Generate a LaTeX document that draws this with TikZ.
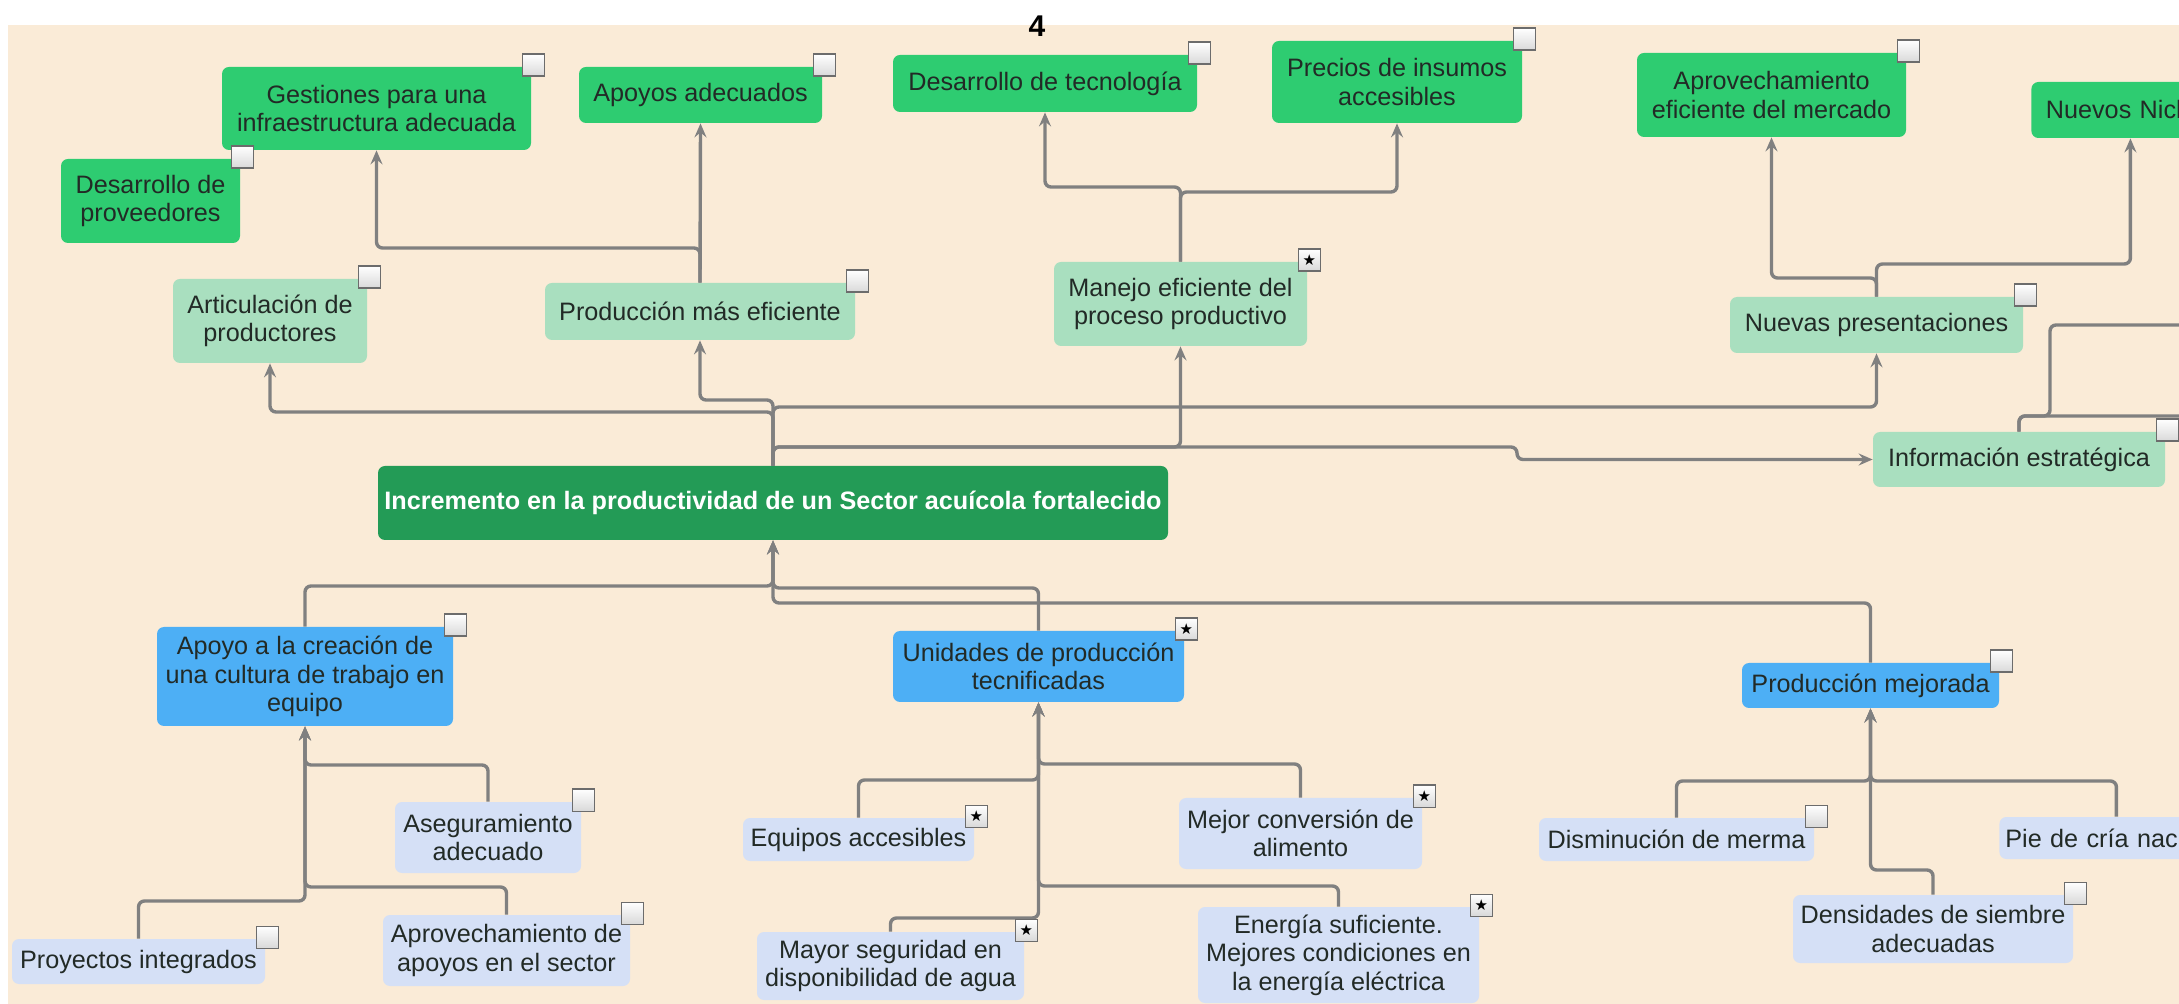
\documentclass[tikz,border=0pt]{standalone}
\usepackage{fontspec}
\setmainfont{Liberation Sans}
\newfontfamily\symfont{DejaVu Sans}
\usetikzlibrary{arrows.meta}
\definecolor{bgbeige}{HTML}{FAEBD7}
\definecolor{gtop}{HTML}{2ECC71}
\definecolor{gmid}{HTML}{A9DFBF}
\definecolor{gmain}{HTML}{239B56}
\definecolor{bblue}{HTML}{4DAFF5}
\definecolor{lavb}{HTML}{D5E0F6}
\definecolor{lgray}{HTML}{808080}
\definecolor{txt}{HTML}{222A26}
\tikzset{
  box/.style={rounded corners=3.5pt, inner xsep=2pt, inner ysep=0pt, align=center,
    font=\fontsize{12.6}{14.3}\selectfont, text=txt},
  topg/.style={box, fill=gtop},
  midg/.style={box, fill=gmid},
  mainbox/.style={box, fill=gmain, text=white, inner xsep=0pt,
    font=\bfseries\fontsize{12.6}{14.3}\selectfont},
  blu/.style={box, fill=bblue},
  lav/.style={box, fill=lavb},
  conn/.style={draw=lgray, line width=1.7pt, rounded corners=3pt},
  arr/.style={conn, -{Stealth[length=7pt,width=6pt,inset=2.5pt]}},
  chkbox/.style={draw=gray!85!black, line width=0.6pt, top color=white, bottom color=gray!30,
    minimum size=11pt, inner sep=0pt, font=\symfont\fontsize{7.5}{7.5}\selectfont},
}
\newcommand\chkat[2]{\node[chkbox] (#1-chk) at ([xshift=1pt,yshift=0.75pt]#1.north east) {#2};}
\begin{document}
\begin{tikzpicture}[x=0.5pt,y=-0.5pt]
\useasboundingbox (0,0) rectangle (2179,1004);
\clip (0,0) rectangle (2179,1004);
\fill[white] (0,0) rectangle (2179,1004);
\fill[bgbeige] (8,25) rectangle (2179,1004);
\node[font=\bfseries\fontsize{15}{15}\selectfont] (pagenum) at (1037,26) {4};

% top level
\node[topg, minimum width=154.5pt, minimum height=41.5pt] (gest) at (376.5,108.5) {Gestiones para una\\infraestructura adecuada};
\node[topg, minimum width=89.5pt, minimum height=42pt] (prov) at (150.5,201) {Desarrollo de\\proveedores};
\node[topg, minimum width=121.5pt, minimum height=28pt] (apoyos) at (700.5,95) {Apoyos adecuados};
\node[topg, minimum width=152pt, minimum height=28.5pt] (tecno) at (1045,83.5) {Desarrollo de tecnología};
\node[topg, minimum width=125pt, minimum height=41pt] (precios) at (1397,82) {Precios de insumos\\accesibles};
\node[topg, minimum width=134.5pt, minimum height=42pt] (aprov) at (1771.5,95) {Aprovechamiento\\eficiente del mercado};
\node[topg, minimum height=28pt, text width=84.5pt, inner xsep=7.25pt, align=left, anchor=west] (nichos) at (2031,110) {Nuevos Nich};

% second level
\node[midg, minimum width=97pt, minimum height=42pt] (artic) at (270,321) {Articulación de\\productores};
\node[midg, minimum width=155pt, minimum height=28.5pt] (prodef) at (700,311.5) {Producción más eficiente};
\node[midg, minimum width=126.5pt, minimum height=42pt] (manejo) at (1180.5,304) {Manejo eficiente del\\proceso productivo};
\node[midg, minimum width=146.5pt, minimum height=28pt] (nuevas) at (1876.5,325) {Nuevas presentaciones};
\node[midg, minimum width=146pt, minimum height=27.5pt] (info) at (2019,459.5) {Información estratégica};

% main
\node[mainbox, minimum width=395pt, minimum height=37pt] (main) at (773,503) {Incremento en la productividad de un Sector acuícola fortalecido};

% blue
\node[blu, minimum width=148pt, minimum height=49.5pt] (apoyo) at (305,676.5) {Apoyo a la creación de\\una cultura de trabajo en\\equipo};
\node[blu, minimum width=145.5pt, minimum height=35.5pt] (unid) at (1038.5,666.5) {Unidades de producción\\tecnificadas};
\node[blu, minimum width=128.5pt, minimum height=22.5pt] (prodmej) at (1870.5,685.5) {Producción mejorada};

% lavender
\node[lav, minimum width=93pt, minimum height=35.5pt] (asegur) at (488,837.5) {Aseguramiento\\adecuado};
\node[lav, minimum width=123.5pt, minimum height=35.5pt] (aprovap) at (506.5,950.5) {Aprovechamiento de\\apoyos en el sector};
\node[lav, minimum width=126.5pt, minimum height=22.5pt] (proyectos) at (138.5,961.5) {Proyectos integrados};
\node[lav, minimum width=115.5pt, minimum height=21.5pt] (equipos) at (858.5,839.5) {Equipos accesibles};
\node[lav, minimum width=121.5pt, minimum height=35.5pt] (mejor) at (1300.5,833.5) {Mejor conversión de\\alimento};
\node[lav, minimum width=133.5pt, minimum height=34pt] (mayor) at (890.5,966) {Mayor seguridad en\\disponibilidad de agua};
\node[lav, minimum width=140.5pt, minimum height=48pt] (energia) at (1338.5,955) {Energía suficiente.\\Mejores condiciones en\\la energía eléctrica};
\node[lav, minimum width=137.5pt, minimum height=21.5pt] (dismin) at (1676.5,839.5) {Disminución de merma};
\node[lav, minimum height=21pt, text width=111pt, inner xsep=3pt, align=left, anchor=west] (pie) at (1999,838) {Pie de cría naci};
\node[lav, minimum width=140pt, minimum height=34pt] (densid) at (1933,929) {Densidades de siembre\\adecuadas};

% connectors, upper part
\draw[arr] (prodef.north) |- (gest.south |- 0,248) -- (gest.south);
\draw[arr] (prodef.north) -- (apoyos.south);
\draw[arr] (manejo.north) |- (tecno.south |- 0,187) -- (tecno.south);
\draw[arr] (manejo.north) |- (precios.south |- 0,192) -- (precios.south);
\draw[arr] (nuevas.north) |- (aprov.south |- 0,278) -- (aprov.south);
\draw[arr] (nuevas.north) |- (nichos.south |- 0,264) -- (nichos.south);
\draw[arr] (main.north) |- (prodef.south |- 0,400) -- (prodef.south);
\draw[arr] (main.north) |- (artic.south |- 0,412) -- (artic.south);
\draw[arr] (main.north) |- (nuevas.south |- 0,407) -- (nuevas.south);
\draw[arr] (main.north) |- (manejo.south |- 0,447) -- (manejo.south);
\draw[arr] (main.north) |- (1517,447) |- (info.west);
\coordinate (edgeA) at (2200,416);
\coordinate (edgeB) at (2200,325);
\draw[conn] (info.north) |- (edgeA);
\draw[conn] (info.north) |- (2050,416) |- (edgeB);

% connectors, lower part
\draw[arr] (apoyo.north) |- (main.south |- 0,586) -- (main.south);
\draw[arr] (unid.north) |- (main.south |- 0,588) -- (main.south);
\draw[arr] (prodmej.north) |- (main.south |- 0,603) -- (main.south);
\draw[arr] (asegur.north) |- (apoyo.south |- 0,765) -- (apoyo.south);
\draw[arr] (aprovap.north) |- (apoyo.south |- 0,887) -- (apoyo.south);
\draw[arr] (proyectos.north) |- (apoyo.south |- 0,901) -- (apoyo.south);
\draw[arr] (equipos.north) |- (unid.south |- 0,780) -- (unid.south);
\draw[arr] (mejor.north) |- (unid.south |- 0,764) -- (unid.south);
\draw[arr] (mayor.north) |- (unid.south |- 0,918) -- (unid.south);
\draw[arr] (energia.north) |- (unid.south |- 0,886) -- (unid.south);
\draw[arr] (dismin.north) |- (prodmej.south |- 0,781) -- (prodmej.south);
\draw[arr] (pie.north) |- (prodmej.south |- 0,781) -- (prodmej.south);
\draw[arr] (densid.north) |- (prodmej.south |- 0,870) -- (prodmej.south);

% checkboxes
\chkat{gest}{}
\chkat{prov}{}
\chkat{apoyos}{}
\chkat{tecno}{}
\chkat{precios}{}
\chkat{aprov}{}
\chkat{artic}{}
\chkat{prodef}{}
\chkat{manejo}{★}
\chkat{nuevas}{}
\chkat{info}{}
\chkat{apoyo}{}
\chkat{unid}{★}
\chkat{prodmej}{}
\chkat{asegur}{}
\chkat{aprovap}{}
\chkat{proyectos}{}
\chkat{equipos}{★}
\chkat{mejor}{★}
\chkat{mayor}{★}
\chkat{energia}{★}
\chkat{dismin}{}
\chkat{densid}{}
\end{tikzpicture}
\end{document}
